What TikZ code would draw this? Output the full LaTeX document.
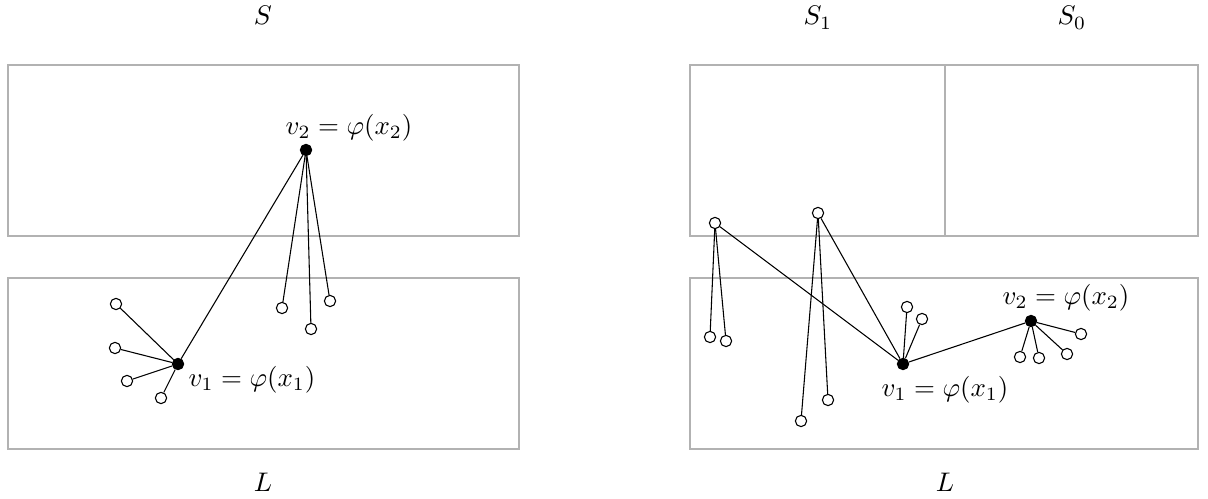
\documentclass[tikz,border=0pt]{standalone}
\usepackage{amsmath}
\usepackage{amssymb}
\usepackage{tikz}
\usetikzlibrary{calc}

\begin{document}
\begin{tikzpicture}[
		x=0.372pt, y=-0.372pt, % one unit is one pixel of the picture
		region/.style={
				draw=gray!60,
				line width=0.8pt
			},
		hollow/.style={
				circle,
				draw,
				fill=white,
				inner sep=0pt,
				minimum size=4.2pt
			},
		solid/.style={
				circle,
				draw,
				fill=black,
				inner sep=0pt,
				minimum size=4.2pt
			},
		tag/.style={
				inner sep=0pt,
				anchor=base
			}
	]
	\useasboundingbox (0,0) rectangle (1208,499);

	% left picture
	\draw[region] (8,65) rectangle (519,236);
	\draw[region] (8,278) rectangle (519,449);
	\node[tag] (sl) at (263,25) {$S$};
	\node[tag] (ll) at (263,491) {$L$};

	\node[solid] (lv2) at (306,150) {};
	\node[solid] (lv1) at (178,364) {};
	\node (lv2lbl) at (349,128) {$v_2 = \varphi(x_2)$};
	\node (lv1lbl) at (252,380) {$v_1 = \varphi(x_1)$};

	\node[hollow] (lp1) at (116,304) {};
	\node[hollow] (lp2) at (115,348) {};
	\node[hollow] (lp3) at (127,381) {};
	\node[hollow] (lp4) at (161,398) {};
	\node[hollow] (lq1) at (282,308) {};
	\node[hollow] (lq2) at (311,329) {};
	\node[hollow] (lq3) at (330,301) {};

	\draw (lv2) -- (lv1);
	\foreach \n in {lq1, lq2, lq3} \draw (lv2) -- (\n);
	\foreach \n in {lp1, lp2, lp3, lp4} \draw (lv1) -- (\n);

	% right picture
	\draw[region] (690,65) rectangle (1198,236);
	\draw[region] (945,65) -- (945,236);
	\draw[region] (690,278) rectangle (1198,449);
	\node[tag] (s1) at (818,25) {$S_1$};
	\node[tag] (s0) at (1072,25) {$S_0$};
	\node[tag] (lr) at (945,491) {$L$};

	\node[solid] (rv1) at (903,364) {};
	\node[solid] (rv2) at (1031,321) {};
	\node (rv2lbl) at (1066,298) {$v_2 = \varphi(x_2)$};
	\node (rv1lbl) at (945,390) {$v_1 = \varphi(x_1)$};

	\node[hollow] (ra) at (715,223) {};
	\node[hollow] (rb) at (818,213) {};
	\node[hollow] (ra1) at (710,337) {};
	\node[hollow] (ra2) at (726,341) {};
	\node[hollow] (rb1) at (801,421) {};
	\node[hollow] (rb2) at (828,400) {};
	\node[hollow] (rc1) at (907,307) {};
	\node[hollow] (rc2) at (922,319) {};
	\node[hollow] (rd1) at (1020,357) {};
	\node[hollow] (rd2) at (1039,358) {};
	\node[hollow] (rd3) at (1067,354) {};
	\node[hollow] (rd4) at (1081,334) {};

	\draw (ra) -- (ra1);
	\draw (ra) -- (ra2);
	\draw (ra) -- (rv1);
	\draw (rb) -- (rb1);
	\draw (rb) -- (rb2);
	\draw (rb) -- (rv1);
	\draw (rv1) -- (rc1);
	\draw (rv1) -- (rc2);
	\draw (rv1) -- (rv2);
	\foreach \n in {rd1, rd2, rd3, rd4} \draw (rv2) -- (\n);

\end{tikzpicture}
\end{document}
